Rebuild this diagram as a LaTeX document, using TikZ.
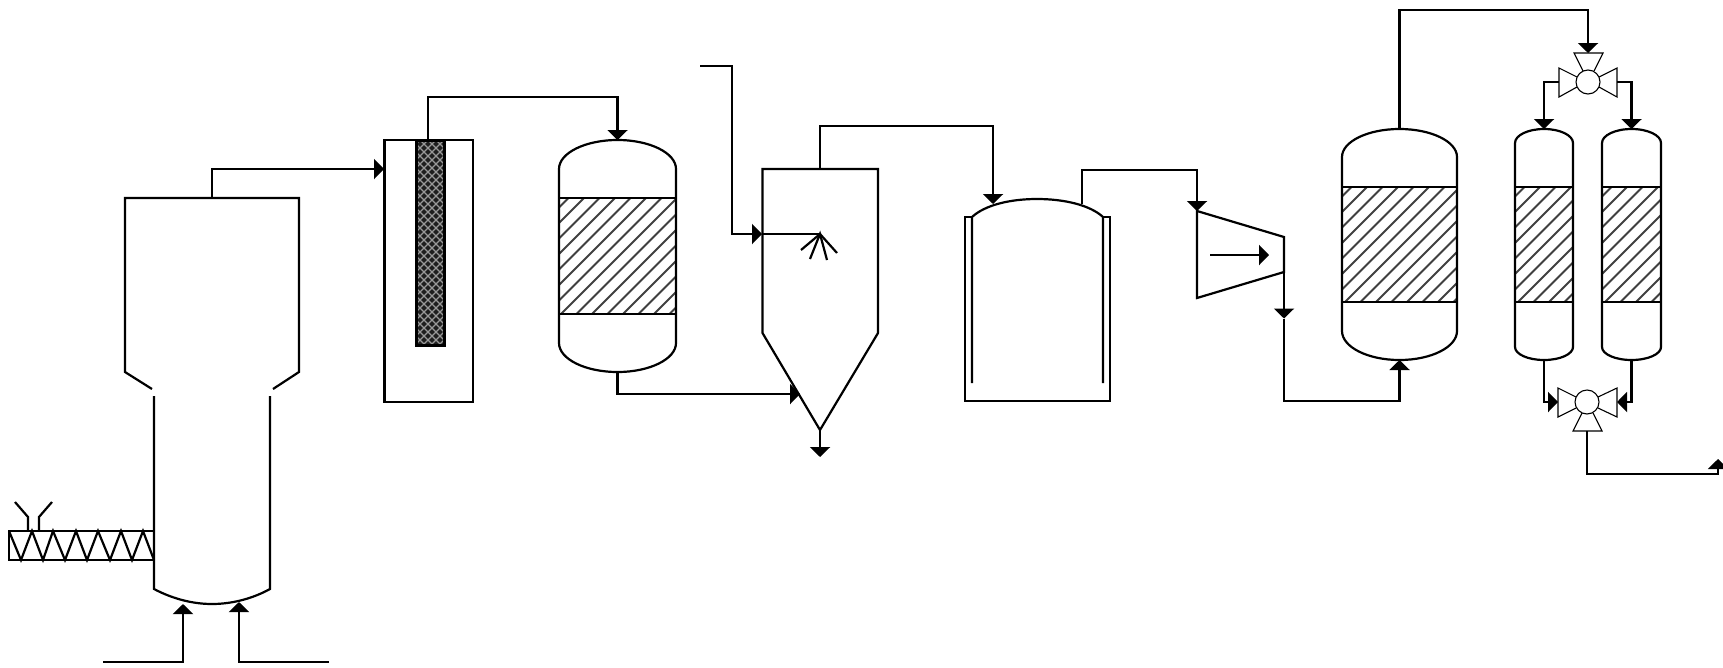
\documentclass[tikz,border=0pt]{standalone}
\usetikzlibrary{arrows.meta}
\tikzset{
  pipe/.style={line width=2.2pt,line join=miter},
  flow/.style={pipe,-{Triangle[length=10pt,width=20pt]}},
  wall/.style={line width=2.2pt,line join=miter},
  thinwall/.style={line width=1.1pt,line join=miter},
  hub/.style={circle,draw,line width=1.1pt,minimum size=24pt,inner sep=0pt,fill=white},
}
% vessel: name, xl, xr, top, shoulder top, band top, band bottom, shoulder bottom, bottom
\newcommand{\packedvessel}[9]{
  \pgfmathsetmacro{\vc}{(#2+#3)/2}
  \pgfmathsetmacro{\vrx}{(#3-#2)*0.5523/2}
  \pgfmathsetmacro{\vta}{#5-(#5-#4)*0.5523}
  \pgfmathsetmacro{\vba}{#8+(#9-#8)*0.5523}
  \begin{scope}
    \clip (#2,#6) rectangle (#3,#7);
    \foreach \k in {-2,...,26}{
      \pgfmathsetmacro{\hx}{#2-6+15.5*\k}
      \draw[line width=1.9pt,black!75] (\hx,#6) -- ({\hx-(#7-#6)},#7);
    }
  \end{scope}
  \draw[wall] (#2,#5) .. controls (#2,\vta) and ({\vc-\vrx},#4) .. (\vc,#4)
     .. controls ({\vc+\vrx},#4) and (#3,\vta) .. (#3,#5) -- (#3,#8)
     .. controls (#3,\vba) and ({\vc+\vrx},#9) .. (\vc,#9)
     .. controls ({\vc-\vrx},#9) and (#2,\vba) .. (#2,#8) -- cycle;
  \draw[wall] (#2,#6) -- (#3,#6) (#2,#7) -- (#3,#7);
  \coordinate (#1top) at (\vc,#4);
  \coordinate (#1bot) at (\vc,#9);
}
\begin{document}
\begin{tikzpicture}[x=1pt,y=-1pt]
\useasboundingbox (0,0) rectangle (1723,667);

% screw feeder
\draw[wall] (9,531) rectangle (154,560);
\draw[wall] (9,531) -- (21,560) -- (32,531) -- (43,560) -- (53,531) -- (65,560) -- (76,531)
  -- (87,560) -- (98,531) -- (110,560) -- (121,531) -- (132,560) -- (143,531) -- (154,560);
\draw[wall] (28,531) -- (28,517) -- (15,502);
\draw[wall] (39,531) -- (39,517) -- (52,502);

% gasifier
\draw[wall] (152,389) -- (125,372) -- (125,198) -- (299,198) -- (299,372) -- (273,389);
\draw[wall] (154,396) -- (154,589) .. controls (175,600) and (195,604) .. (212,604)
  .. controls (229,604) and (250,600) .. (270,589) -- (270,396);
\coordinate (gastop) at (212,198);
\coordinate (feedA0) at (103,662);
\coordinate (feedA1) at (183,662);
\coordinate (feedA2) at (183,604);
\coordinate (feedB0) at (329,662);
\coordinate (feedB1) at (239,662);
\coordinate (feedB2) at (239,602);
\draw[flow] (feedA0) -- (feedA1) -- (feedA2);
\draw[flow] (feedB0) -- (feedB1) -- (feedB2);

% filter box with packed tube
\draw[wall] (384.5,140) rectangle (473,402);
\begin{scope}
  \clip (416,140) rectangle (444,345);
  \fill[black!88] (416,140) rectangle (444,345);
  \foreach \k in {0,...,36}{
    \pgfmathsetmacro{\hx}{412+8*\k}
    \draw[line width=1.3pt,black!40] (\hx,140) -- ({\hx-205},345);
    \pgfmathsetmacro{\hy}{444-8*\k}
    \draw[line width=1.3pt,black!40] (\hy,140) -- ({\hy+205},345);
  }
\end{scope}
\draw[line width=3pt] (416,140) rectangle (444,345);
\coordinate (boxin) at (384,169);
\coordinate (tubetop) at (428,140);
\draw[flow] (gastop) -- (212,169) -- (boxin);

% packed vessel 1
\packedvessel{vone}{559}{676}{140}{169}{198}{314}{343}{372}
\draw[flow] (tubetop) -- (428,97) -- (617.5,97) -- (vonetop);

% cyclone
\draw[wall] (762.5,169) -- (878,169) -- (878,333) -- (820,430) -- (762.5,333) -- cycle;
\coordinate (cyctop) at (820,169);
\coordinate (cyctip) at (820,430);
\coordinate (cycout) at (820,457);
\coordinate (cycside) at (800,394);
\coordinate (spray) at (820,234);
\coordinate (cycwall) at (762,234);
\draw[flow] (cyctip) -- (cycout);
\draw[flow] (vonebot) -- (617.5,394) -- (cycside);
\coordinate (liq0) at (700,66);
\draw[flow] (liq0) -- (732,66) -- (732,234) -- (cycwall);
\draw[pipe] (cycwall) -- (spray);
\draw[wall] (801,250) -- (spray) -- (837,253);
\draw[wall] (810,259) -- (spray) -- (827,260);

% tank
\draw[wall] (972,217) -- (965,217) -- (965,401) -- (1110,401) -- (1110,217) -- (1103,217);
\draw[wall] (972,383) -- (972,217) .. controls (985,205) and (1010,199) .. (1037,199)
  .. controls (1064,199) and (1090,205) .. (1103,217) -- (1103,383);
\coordinate (tankin) at (993,204);
\coordinate (tankout) at (1082,204);
\draw[flow] (cyctop) -- (820,126) -- (993,126) -- (tankin);

% compressor
\draw[wall] (1197,211) -- (1284,237) -- (1284,272) -- (1197,298) -- cycle;
\coordinate (compin) at (1197,211);
\coordinate (compout) at (1284,272);
\coordinate (compmid) at (1284,318.5);
\coordinate (compA) at (1210,255);
\coordinate (compB) at (1269,255);
\draw[flow] (tankout) -- (1082,170) -- (1197,170) -- (compin);
\draw[flow] (compA) -- (compB);
\draw[flow] (compout) -- (compmid);

% packed vessels 2-4
\packedvessel{vtwo}{1342}{1457}{129}{157}{187}{302}{331}{360}
\packedvessel{vthree}{1515}{1573}{129}{143}{187}{302}{347}{360}
\packedvessel{vfour}{1602}{1661}{129}{143}{187}{302}{347}{360}
\draw[flow] (compmid) -- (1284,401) -- (1399.5,401) -- (vtwobot);

% top three-way valve
\node[hub] (valvetop) at (1588,82) {};
\draw[thinwall] (1583,71) -- (1574,53) -- (1603,53) -- (1594,71);
\draw[thinwall] (1577,77) -- (1559,68) -- (1559,97) -- (1577,87);
\draw[thinwall] (1599,77) -- (1617,68) -- (1617,97) -- (1599,87);
\coordinate (vtin) at (1588,53);
\coordinate (vtl) at (1559,82);
\coordinate (vtr) at (1617,82);
\draw[flow] (1399.5,129) -- (1399.5,10) -- (1588,10) -- (vtin);
\draw[flow] (vtl) -- (1544,82) -- (vthreetop);
\draw[flow] (vtr) -- (1631.5,82) -- (vfourtop);

% bottom three-way valve
\node[hub] (valvebot) at (1587,402) {};
\draw[thinwall] (1582,413) -- (1573,431) -- (1602,431) -- (1593,413);
\draw[thinwall] (1576,397) -- (1558,388) -- (1558,417) -- (1576,408);
\draw[thinwall] (1598,397) -- (1617,388) -- (1617,417) -- (1598,408);
\coordinate (vbl) at (1558,402);
\coordinate (vbr) at (1617,402);
\coordinate (vbout) at (1587,431);
\coordinate (prod) at (1718,459);
\draw[flow] (vthreebot) -- (1544,402) -- (vbl);
\draw[flow] (vfourbot) -- (1631.5,402) -- (vbr);
\draw[flow] (vbout) -- (1587,474) -- (1718,474) -- (prod);
\end{tikzpicture}
\end{document}
